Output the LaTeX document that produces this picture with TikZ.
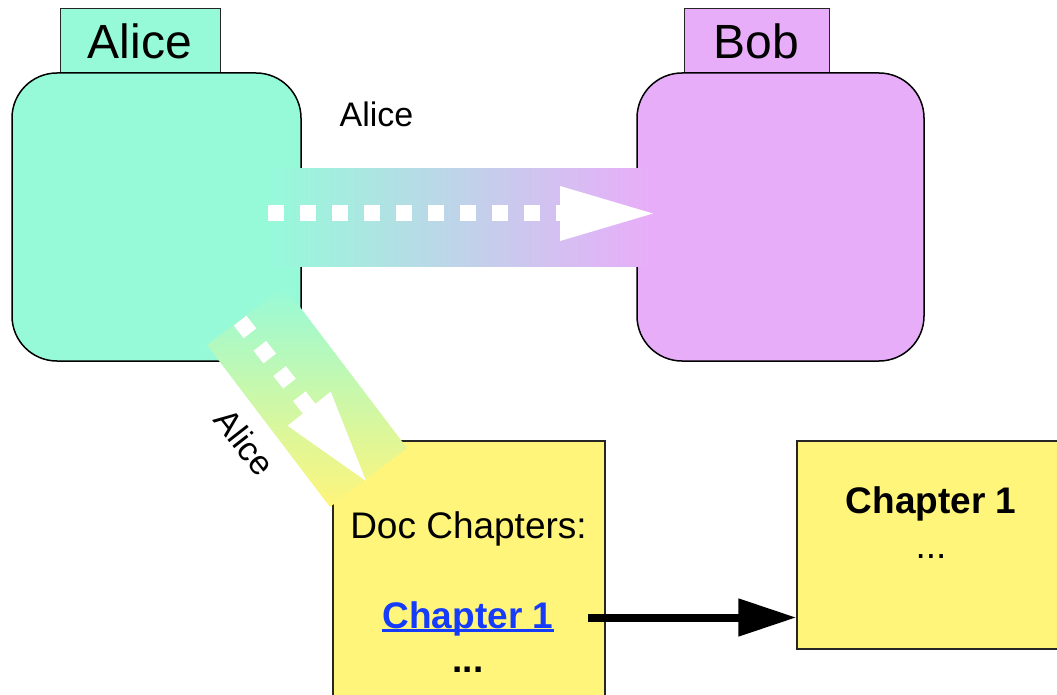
\documentclass[tikz,border=0pt]{standalone}
\usepackage{fontspec}
\setmainfont{Liberation Sans}
\usetikzlibrary{arrows.meta,calc}

\definecolor{aliceteal}{RGB}{150,250,217}
\definecolor{bobpurple}{RGB}{232,173,249}
\definecolor{docyellow}{RGB}{255,245,122}
\definecolor{linkblue}{RGB}{20,60,250}

\begin{document}
\begin{tikzpicture}[x=1pt,y=-1pt,
  body/.style={draw=black, line width=1.5pt, rounded corners=45pt,
    minimum height=288pt, inner sep=0pt},
  tab/.style={draw=black!85, line width=1pt, minimum height=64pt,
    inner sep=0pt, font=\fontsize{48}{56}\selectfont},
  docbox/.style={draw=black!85, line width=1.3pt, fill=docyellow, inner sep=0pt},
  txt/.style={inner sep=0pt, anchor=base},
  big/.style={font=\fontsize{37}{44}\selectfont},
  bigbold/.style={font=\fontsize{37}{44}\selectfont\bfseries},
  small/.style={font=\fontsize{34}{40}\selectfont},
  dots/.style={white, line width=16pt, dash pattern=on 16pt off 16pt}
]
\useasboundingbox (0,0) rectangle (1057,695);

% document boxes
\node[docbox, minimum width=272pt, minimum height=270pt] (doc) at (469,576) {};
\node[docbox, minimum width=268pt, minimum height=208pt] (chap) at (931,545) {};

% participants: tab on top of a rounded body
\node[tab, fill=aliceteal, minimum width=160pt] (alicetab) at (140,41) {Alice};
\node[body, fill=aliceteal, minimum width=289pt] (alice) at (156.5,217) {};
\node[tab, fill=bobpurple, minimum width=145pt] (bobtab) at (756.5,41) {Bob};
\node[body, fill=bobpurple, minimum width=287pt] (bob) at (780.5,217) {};

% wide message arrow Alice -> Bob
\shade[left color=aliceteal, right color=bobpurple] (268,169) rectangle (650,266);
\draw[dots] (268,213) -- (562,213);
\fill[white] (560,186) -- (653,213.5) -- (560,241) -- cycle;
\node[txt, small] (msglabel) at (376.5,127) {Alice};

% wide message arrow Alice -> document
\shade[top color=aliceteal, bottom color=docyellow]
  (207,345) -- (284,286) -- (407,448) -- (330,507) -- cycle;
\draw[dots] (240.1,320.7) -- (309.1,408.7);
\fill[white] (287.5,425.7) -- (366,481) -- (330.7,391.7) -- cycle;
\node[small, inner sep=0pt, rotate=-52] (doclabelmsg) at (245,442) {Alice};

% document contents
\node[txt, big] (doctitle) at (468.5,538) {Doc Chapters:};
\node[txt, bigbold, text=linkblue] (link) at (468,628) {Chapter 1};
\draw[linkblue, line width=3pt] ([yshift=-2pt]link.base west) -- ([yshift=-2pt]link.base east);
\node[txt, bigbold] (docmore) at (468,672) {...};

% chapter page
\node[txt, bigbold] (chaptitle) at (931,513) {Chapter 1};
\node[txt, big] (chapmore) at (931,558) {...};

% link to the chapter
\coordinate (linkout) at (588,617.5);
\draw[line width=8pt, -{Triangle[length=58pt,width=36pt]}] (linkout) -- (linkout -| chap.west);
\end{tikzpicture}
\end{document}
